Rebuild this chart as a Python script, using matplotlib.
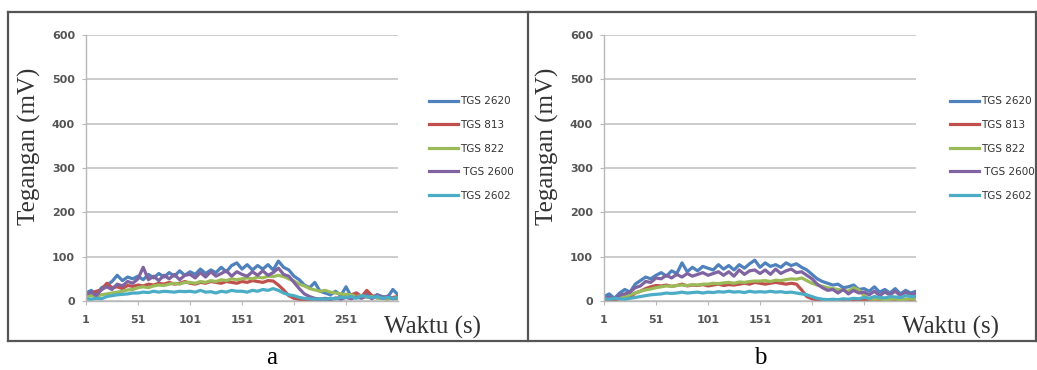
import numpy as np
import matplotlib
matplotlib.use("Agg")
import matplotlib.pyplot as plt
from matplotlib.lines import Line2D

# sensor response, one sample every 5 s (t = 1, 6, ..., 301)
t = np.arange(1, 302, 5)
sensors = ["TGS 2620", "TGS 813", "TGS 822", " TGS 2600", "TGS 2602"]
colors = ["#4F81BD", "#C0504D", "#9BBB59", "#8064A2", "#4BACC6"]

tgs2620_a = [18, 24, 14, 30, 36, 44, 58, 46, 54, 50, 56, 48, 60, 52, 62, 54, 64, 56, 68, 58,
             66, 60, 72, 62, 70, 64, 76, 66, 80, 86, 72, 82, 70, 80, 72, 82, 70, 90, 76, 70,
             56, 48, 36, 30, 42, 22, 18, 14, 22, 12, 32, 10, 18, 8, 16, 8, 14, 10, 8, 26, 14]
tgs813_a = [15, 18, 22, 25, 40, 30, 32, 28, 35, 33, 36, 34, 38, 36, 40, 38, 42, 38, 40, 44,
            40, 38, 42, 40, 44, 42, 40, 44, 42, 40, 44, 42, 46, 44, 42, 46, 45, 36, 25, 12,
            6, 4, 2, 3, 2, 4, 3, 6, 5, 8, 10, 14, 18, 10, 24, 12, 8, 6, 5, 8, 10]
tgs822_a = [10, 12, 10, 14, 16, 18, 20, 22, 25, 26, 30, 32, 30, 34, 36, 35, 38, 40, 38, 42,
            42, 40, 44, 42, 46, 44, 48, 46, 50, 48, 50, 52, 50, 54, 52, 56, 55, 58, 55, 50,
            45, 38, 34, 28, 25, 22, 24, 20, 18, 16, 15, 14, 10, 12, 8, 10, 6, 8, 5, 6, 5]
tgs2600_a = [15, 20, 12, 26, 32, 26, 38, 34, 44, 40, 50, 76, 48, 56, 46, 58, 50, 60, 48, 58,
             60, 52, 64, 54, 66, 56, 62, 68, 56, 66, 60, 56, 66, 58, 68, 58, 64, 74, 60, 56,
             42, 28, 16, 10, 6, 4, 6, 3, 7, 4, 8, 5, 9, 6, 12, 5, 14, 7, 11, 5, 8]
tgs2602_a = [5, 4, 6, 5, 10, 12, 14, 15, 16, 18, 18, 20, 19, 22, 20, 22, 21, 20, 22, 21,
             22, 20, 24, 20, 21, 18, 22, 20, 24, 22, 22, 20, 24, 22, 26, 24, 28, 24, 18, 14,
             12, 8, 6, 5, 4, 5, 4, 6, 5, 8, 8, 10, 6, 12, 10, 8, 10, 6, 8, 6, 8]

tgs2620_b = [10, 16, 6, 18, 26, 20, 38, 46, 54, 50, 58, 64, 56, 68, 62, 86, 66, 76, 68, 78,
             74, 70, 82, 72, 80, 70, 82, 74, 84, 92, 76, 86, 78, 82, 76, 86, 80, 84, 76, 70,
             60, 50, 44, 40, 36, 38, 30, 32, 36, 26, 28, 22, 32, 20, 26, 18, 28, 16, 24, 18, 22]
tgs813_b = [3, 4, 3, 5, 6, 8, 18, 22, 28, 32, 35, 34, 36, 33, 35, 38, 34, 36, 35, 37,
            34, 36, 38, 35, 37, 36, 38, 40, 38, 42, 40, 38, 40, 42, 40, 38, 40, 38, 25, 10,
            5, 3, 2, 2, 3, 2, 3, 2, 3, 2, 3, 4, 2, 3, 4, 2, 3, 5, 3, 2, 3]
tgs822_b = [5, 6, 5, 8, 10, 14, 18, 22, 25, 27, 30, 32, 34, 33, 35, 36, 35, 37, 36, 38,
            38, 40, 39, 41, 42, 40, 43, 42, 44, 45, 45, 46, 44, 47, 46, 48, 50, 49, 52, 46,
            40, 36, 33, 30, 28, 26, 24, 22, 30, 25, 12, 5, 4, 5, 3, 4, 5, 3, 4, 5, 4]
tgs2600_b = [5, 9, 4, 13, 16, 20, 30, 34, 44, 42, 52, 50, 58, 52, 60, 54, 62, 56, 60, 64,
             58, 62, 66, 58, 66, 56, 70, 60, 68, 70, 62, 70, 60, 72, 62, 68, 72, 64, 66, 58,
             50, 38, 30, 24, 26, 18, 26, 16, 24, 18, 20, 14, 22, 12, 20, 14, 22, 12, 20, 14, 18]
tgs2602_b = [5, 4, 6, 5, 4, 6, 8, 10, 12, 14, 15, 16, 18, 17, 18, 20, 18, 19, 20, 18,
             20, 19, 21, 20, 22, 20, 21, 19, 22, 20, 21, 20, 22, 20, 21, 19, 20, 18, 16, 14,
             10, 6, 4, 3, 4, 3, 5, 4, 6, 5, 8, 6, 10, 8, 7, 10, 9, 8, 12, 10, 10]

panel_a = [tgs2620_a, tgs813_a, tgs822_a, tgs2600_a, tgs2602_a]
panel_b = [tgs2620_b, tgs813_b, tgs822_b, tgs2600_b, tgs2602_b]

x_ticks = [1, 51, 101, 151, 201, 251]
y_ticks = [0, 100, 200, 300, 400, 500, 600]

W, H = 1037, 370
fig = plt.figure(figsize=(W / 100, H / 100), dpi=100)
serif = "Liberation Serif"


def draw_panel(left_px, series, legend_px, letter_px, letter):
    ax = fig.add_axes([left_px / W, 69 / H, 312 / W, 266 / H])
    for vals, c, name in zip(series, colors, sensors):
        ax.plot(t, vals, color=c, lw=2.3, label=name)
    ax.set_xlim(1, 301)
    ax.set_ylim(0, 600)
    ax.set_xticks(x_ticks)
    ax.set_yticks(y_ticks)
    ax.grid(axis="y", color="#c8c8c8", lw=1.3)
    ax.set_axisbelow(True)
    for s in ["top", "right"]:
        ax.spines[s].set_visible(False)
    for s in ["left", "bottom"]:
        ax.spines[s].set_color("#b8b8b8")
        ax.spines[s].set_linewidth(1.0)
    ax.tick_params(axis="both", length=3, color="#b8b8b8", labelsize=8,
                   labelcolor="#555555")
    ax.tick_params(axis="y", pad=5)
    ax.tick_params(axis="x", pad=7)
    for lab in ax.get_xticklabels() + ax.get_yticklabels():
        lab.set_fontweight("bold")

    ax.legend(loc="center left", bbox_to_anchor=(legend_px / W, 1 - 148.5 / H),
              bbox_transform=fig.transFigure, frameon=False, fontsize=7.5,
              handlelength=2.8, handletextpad=0.2, labelspacing=1.3,
              borderpad=0, borderaxespad=0, labelcolor="#333333")

    fig.text((left_px - 57) / W, 1 - 146 / H, "Tegangan (mV)", rotation=90,
             ha="center", va="center", family=serif, fontsize=18, color="#333333")
    fig.text((left_px + 346) / W, 1 - 327 / H, "Waktu (s)", ha="center",
             va="center", family=serif, fontsize=18, color="#333333")
    fig.text(letter_px / W, 1 - 358 / H, letter, ha="center", va="center",
             family=serif, fontsize=18, color="black")


draw_panel(86, panel_a, 429, 272, "a")
draw_panel(604, panel_b, 950, 760, "b")

# frame around the two panels
frame = dict(transform=fig.transFigure, color="#555555", lw=1.6)
top, bottom = 1 - 12 / H, 1 - 341 / H
fig.add_artist(Line2D([8 / W, 1035.5 / W], [top, top], **frame))
fig.add_artist(Line2D([8 / W, 1035.5 / W], [bottom, bottom], **frame))
for xp in [8, 528, 1035.5]:
    fig.add_artist(Line2D([xp / W, xp / W], [bottom, top], **frame))

fig.savefig("out.png", dpi=100)
